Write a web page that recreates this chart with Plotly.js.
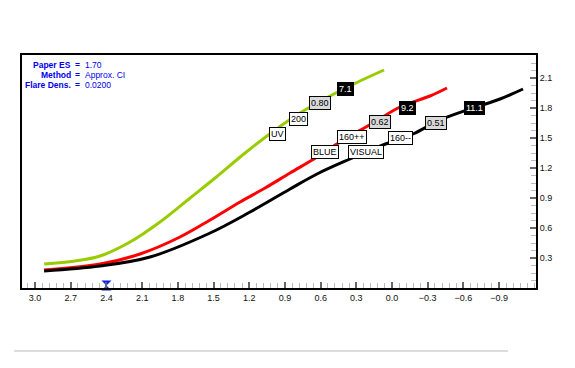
<!DOCTYPE html>
<html>
<head>
<meta charset="utf-8">
<script src="https://cdn.plot.ly/plotly-3.0.1.min.js"></script>
<style>html,body{margin:0;padding:0;background:#fff;}#chart{width:575px;height:368px;}</style>
</head>
<body>
<div id="chart"></div>
<script>
// Series (x = colour index, reversed axis; y = magnitude value)
const uvX = [2.924, 2.664, 2.454, 2.202, 1.950, 1.697, 1.487, 1.235, 0.983, 0.773, 0.521, 0.269, 0.067];
const uvY = [0.24, 0.27, 0.32, 0.46, 0.66, 0.90, 1.10, 1.35, 1.58, 1.75, 1.92, 2.07, 2.18];
const blueX = [2.924, 2.454, 2.118, 1.782, 1.529, 1.277, 1.067, 0.857, 0.630, 0.437, 0.160, -0.067, -0.319, -0.462];
const blueY = [0.18, 0.24, 0.34, 0.51, 0.68, 0.86, 1.00, 1.15, 1.31, 1.46, 1.65, 1.81, 1.92, 2.00];
const visX = [2.924, 2.454, 2.034, 1.529, 1.193, 0.857, 0.630, 0.353, 0.076, -0.176, -0.403, -0.681, -0.908, -1.101];
const visY = [0.17, 0.22, 0.31, 0.55, 0.76, 0.99, 1.14, 1.29, 1.43, 1.54, 1.68, 1.80, 1.89, 1.99];

// Tick labels
const xTicks = [3.0, 2.7, 2.4, 2.1, 1.8, 1.5, 1.2, 0.9, 0.6, 0.3, 0.0, -0.3, -0.6, -0.9];
const yTicks = [0.3, 0.6, 0.9, 1.2, 1.5, 1.8, 2.1];

// Curve labels: [text, x, y, style]
const curveLabels = [
  ["UV", 0.966, 1.54, "white"],
  ["200", 0.790, 1.69, "white"],
  ["0.80", 0.605, 1.85, "gray"],
  ["7.1", 0.387, 1.99, "black"],
  ["BLUE", 0.563, 1.36, "white"],
  ["160++", 0.336, 1.51, "white"],
  ["0.62", 0.101, 1.66, "gray"],
  ["9.2", -0.134, 1.80, "black"],
  ["VISUAL", 0.218, 1.36, "white"],
  ["160--", -0.067, 1.50, "white"],
  ["0.51", -0.370, 1.65, "gray"],
  ["11.1", -0.689, 1.80, "black"]
];

// Info block
const infoLabels = ["Paper ES", "Method", "Flare Dens."];
const infoValues = ["1.70", "Approx. CI", "0.0200"];

// Marker on x-axis
const markerX = [2.4];
const markerY = [0.025];

const font = "Liberation Sans, Arial, sans-serif";

const traces = [
  {x: uvX, y: uvY, mode: "lines", line: {color: "#99cc00", width: 3, shape: "spline"}, hoverinfo: "skip"},
  {x: blueX, y: blueY, mode: "lines", line: {color: "#ff0000", width: 3, shape: "spline"}, hoverinfo: "skip"},
  {x: visX, y: visY, mode: "lines", line: {color: "#000000", width: 3, shape: "spline"}, hoverinfo: "skip"},
  {x: markerX, y: markerY, mode: "markers", cliponaxis: false,
   marker: {symbol: "hourglass", size: 10, color: "#0022ff", line: {width: 0}}, hoverinfo: "skip"}
];

const styles = {
  white: {bg: "#ffffff", fg: "#000000"},
  gray: {bg: "#d9d9d9", fg: "#000000"},
  black: {bg: "#000000", fg: "#ffffff"}
};

const annotations = curveLabels.map(l => ({
  x: l[1], y: l[2], xref: "x", yref: "y", text: l[0], showarrow: false,
  font: {family: font, size: 9, color: styles[l[3]].fg},
  bgcolor: styles[l[3]].bg, bordercolor: "#000000", borderwidth: 1, borderpad: 1
}));

const infoY = [0.957, 0.914, 0.873];
const px = p => (p - 22) / 514;
infoLabels.forEach((t, i) => {
  annotations.push({x: px(73), y: infoY[i], xref: "paper", yref: "paper", xanchor: "right", yanchor: "middle",
    text: "<b>" + t + "</b>", showarrow: false, font: {family: font, size: 8.5, color: "#0000ee"}});
  annotations.push({x: px(77), y: infoY[i], xref: "paper", yref: "paper", xanchor: "center", yanchor: "middle",
    text: "<b>=</b>", showarrow: false, font: {family: font, size: 8.5, color: "#0000ee"}});
  annotations.push({x: px(83), y: infoY[i], xref: "paper", yref: "paper", xanchor: "left", yanchor: "middle",
    text: infoValues[i], showarrow: false, font: {family: font, size: 8.5, color: "#0000ee"}});
});

const layout = {
  width: 575, height: 368,
  margin: {l: 22, r: 39, t: 55, b: 80},
  paper_bgcolor: "#ffffff", plot_bgcolor: "#ffffff",
  showlegend: false,
  xaxis: {
    range: [3.11, -1.21], tickvals: xTicks, tickformat: ".1f",
    showgrid: false, zeroline: false, showline: true, mirror: true, linecolor: "#000000", linewidth: 2,
    ticks: "inside", ticklen: 6, tickwidth: 2, tickcolor: "#666666",
    minor: {dtick: 0.06, tick0: 0, ticks: "inside", ticklen: 5, tickwidth: 1, tickcolor: "#bbbbbb", showgrid: false},
    tickfont: {family: font, size: 9, color: "#111111"}
  },
  yaxis: {
    range: [0, 2.33], side: "right", tickvals: yTicks, tickformat: ".1f",
    showgrid: false, zeroline: false, showline: true, mirror: true, linecolor: "#000000", linewidth: 2,
    ticks: "inside", ticklen: 6, tickwidth: 2, tickcolor: "#666666",
    minor: {dtick: 0.075, tick0: 0, ticks: "inside", ticklen: 5, tickwidth: 1, tickcolor: "#bbbbbb", showgrid: false},
    tickfont: {family: font, size: 9, color: "#111111"}
  },
  annotations: annotations,
  shapes: [
    {type: "line", xref: "paper", yref: "paper", x0: -0.0156, x1: 0.9455, y0: -0.2704, y1: -0.2704,
     line: {color: "#dddddd", width: 2}}
  ]
};

Plotly.newPlot("chart", traces, layout, {displayModeBar: false, staticPlot: true});
</script>
</body>
</html>
